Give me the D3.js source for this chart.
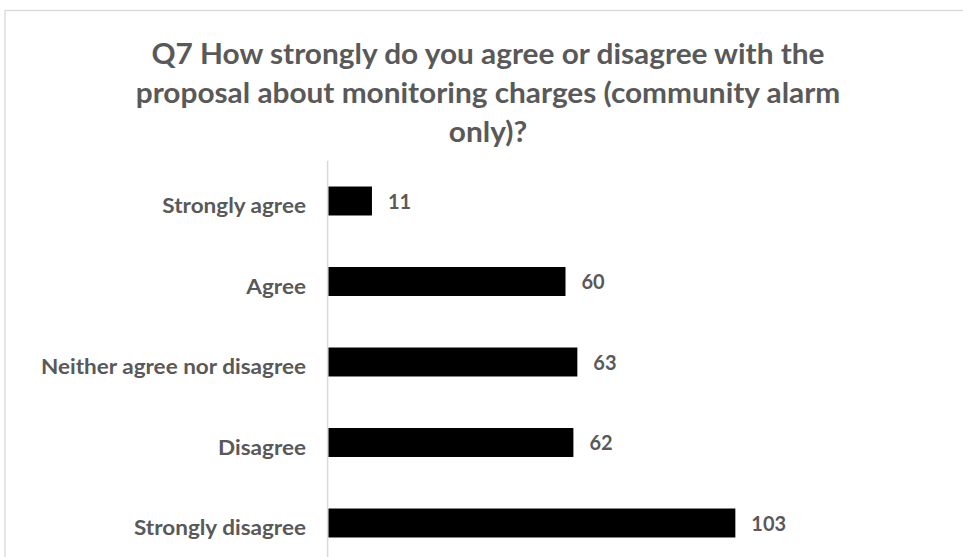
<!DOCTYPE html>
<html>
<head>
<meta charset="utf-8">
<script src="https://cdn.jsdelivr.net/npm/d3@7"></script>
<style>
  html, body { margin: 0; padding: 0; background: #fff; }
  svg { display: block; }
  text { font-family: Lato, "Open Sans", sans-serif; font-weight: 700; fill: #595959; }
</style>
</head>
<body>
<svg id="chart" width="963" height="557"></svg>
<script>
// Survey responses, Q7
const categories = ["Strongly agree", "Agree", "Neither agree nor disagree", "Disagree", "Strongly disagree"];
const responses = [11, 60, 63, 62, 103];
const titleLines = [
  "Q7 How strongly do you agree or disagree with the",
  "proposal about monitoring charges (community alarm",
  "only)?"
];

const svg = d3.select("#chart");
const W = 963, H = 557;

svg.append("rect").attr("width", W).attr("height", H).attr("fill", "#fff");

// chart frame (right and bottom edges run past the view)
svg.append("rect")
  .attr("x", 5).attr("y", 10.5)
  .attr("width", W + 10).attr("height", H + 10)
  .attr("fill", "none").attr("stroke", "#d9d9d9").attr("stroke-width", 1.3);

// condense a text group horizontally so a reference line hits a given width
function fitGroup(sel, refNode, targetWidth) {
  const ratio = targetWidth / refNode.getComputedTextLength();
  sel.each(function () {
    const w = this.getComputedTextLength();
    d3.select(this).attr("textLength", w * ratio).attr("lengthAdjust", "spacingAndGlyphs");
  });
}

// title
const title = svg.append("g").selectAll("text")
  .data(titleLines).join("text")
  .attr("x", 488)
  .attr("y", (d, i) => 64 + i * 39)
  .attr("text-anchor", "middle")
  .style("font-size", "28.5px")
  .text(d => d);
fitGroup(title, title.nodes()[0], 673);

// scales
const x = d3.scaleLinear().domain([0, 120]).range([328.5, 328.5 + 120 * 3.95]);
const y = d3.scaleBand().domain(categories)
  .range([160.75, 563.25]).paddingInner(0.64).paddingOuter(0.32);

// vertical category axis line
svg.append("line")
  .attr("x1", 327.6).attr("x2", 327.6)
  .attr("y1", y.range()[0]).attr("y2", H)
  .attr("stroke", "#d9d9d9").attr("stroke-width", 1.5);

// bars
svg.append("g").selectAll("rect")
  .data(categories).join("rect")
  .attr("x", x(0))
  .attr("y", d => y(d))
  .attr("height", y.bandwidth())
  .attr("width", (d, i) => x(responses[i]) - x(0))
  .attr("fill", "#000");

// category labels
const catLabels = svg.append("g").selectAll("text")
  .data(categories).join("text")
  .attr("x", 306)
  .attr("y", d => y(d) + y.bandwidth() / 2 + 12)
  .attr("text-anchor", "end")
  .style("font-size", "21.5px")
  .text(d => d);
fitGroup(catLabels, catLabels.nodes()[2], 265);

// value labels
svg.append("g").selectAll("text")
  .data(categories).join("text")
  .attr("x", (d, i) => x(responses[i]) + 16)
  .attr("y", d => y(d) + y.bandwidth() / 2 + 7.5)
  .style("font-size", "20px")
  .text((d, i) => responses[i]);
</script>
</body>
</html>
